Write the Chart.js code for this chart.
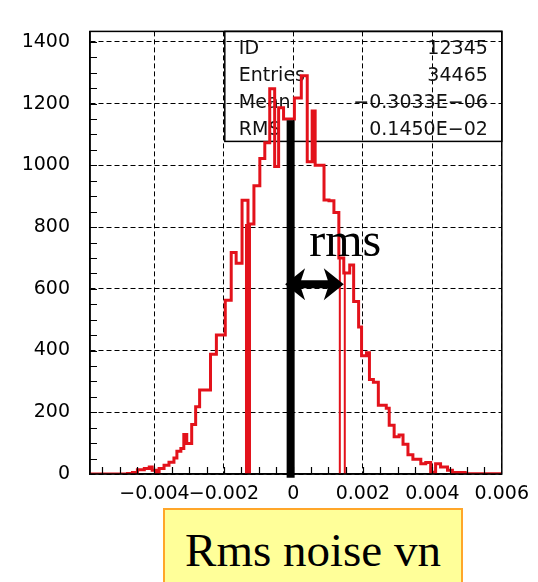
<!DOCTYPE html>
<html>
<head>
<meta charset="utf-8">
<script src="https://cdn.jsdelivr.net/npm/chart.js@4.4.0/dist/chart.umd.min.js"></script>
<style>
  html, body { margin: 0; padding: 0; background: #fff; }
  #wrap { position: relative; width: 538px; height: 582px; overflow: hidden; }
  #noiseLabel {
    position: absolute; left: 163px; top: 508px; width: 300px; height: 90px;
    box-sizing: border-box; background: #ffff99; border: 2px solid #ffa629;
    font-family: 'Liberation Serif', 'Times New Roman', serif; font-size: 47px;
    line-height: 1; text-align: center; padding-top: 17px; color: #000;
  }
</style>
</head>
<body>
<div id="wrap">
  <canvas id="histChart" width="538" height="582"></canvas>
  <div id="noiseLabel">Rms noise vn</div>
</div>
<script>
// histogram step edges (left edge of each step) and counts
const binEdges = [
  -0.005857, -0.004777, -0.004635, -0.004492, -0.004293, -0.004151, -0.004066, -0.003952,
  -0.003867, -0.003725, -0.003583, -0.003440, -0.003355, -0.003241, -0.003156, -0.003071,
  -0.002929, -0.002815, -0.002701, -0.002388, -0.002218, -0.001962, -0.001791, -0.001649,
  -0.001479, -0.001308, -0.001137, -0.000967, -0.000824, -0.000682, -0.000540, -0.000426,
  -0.000284, -0.000114, 0.000028, 0.000227, 0.000398, 0.000540, 0.000626, 0.000881,
  0.001024, 0.001166, 0.001308, 0.001450, 0.001621, 0.001734, 0.001877, 0.001962,
  0.002104, 0.002189, 0.002303, 0.002445, 0.002673, 0.002758, 0.002900, 0.003042,
  0.003156, 0.003298, 0.003440, 0.003668, 0.003810, 0.003952, 0.004094, 0.004237,
  0.004436, 0.004578, 0.004947, 0.006000
];
const binCounts = [
  0, 2, 5, 14, 18, 23, 12, 2,
  18, 28, 38, 52, 74, 83, 128, 99,
  160, 218, 272, 388, 450, 563, 718, 683,
  887, 810, 934, 1022, 1073, 1248, 996, 1187,
  1150, 1150, 1218, 1290, 1012, 1176, 1000, 888,
  885, 847, 700, 651, 677, 559, 476, 383,
  393, 306, 297, 223, 213, 158, 121, 126,
  96, 62, 48, 33, 37, 6, 33, 23,
  12, 5, 1
];

// red marker columns near -rms / +rms
const leftMarkX = -0.001308;
const leftMarkTop = 810;
const rightMarkX = [0.001336, 0.001479];
const rightMarkTop = [700, 655];

// black mean bar and rms arrow overlay
const meanX = -0.00008;
const meanBarRange = [-12, 1146];
const rmsArrowFrom = -0.00024;
const rmsArrowTo = 0.00145;
const rmsArrowY = 615;
const rmsLabelPos = [0.000455, 705];

// axis setup
const xMin = -0.005857, xMax = 0.006;
const yMin = 0, yMax = 1434;
const xTicks = [-0.004, -0.002, 0, 0.002, 0.004, 0.006];
const yTicks = [0, 200, 400, 600, 800, 1000, 1200, 1400];
const xMinorStep = 0.0005;
const yMinorStep = 50;

// statistics box
const statNames = ['ID', 'Entries', 'Mean', 'RMS'];
const statValues = ['12345', '34465', '\u22120.3033E\u221206', '0.1450E\u221202'];

const RED = '#e3121b';
const tickFont = { family: 'DejaVu Sans', size: 19 };

function fmtX(v) {
    if (Math.abs(v) < 1e-12) return '0';
    return v.toFixed(3).replace('-', '\u2212');
}

const histData = binEdges.map((x, i) => ({ x: x, y: binCounts[Math.min(i, binCounts.length - 1)] }));

const overlayPlugin = {
    id: 'overlay',
    beforeDatasetsDraw(chart) {
        const { ctx, chartArea: a } = chart;
        // stats box (transparent, top right)
        const bx = a.right - 277, by = a.top, bw = 277, bh = 110;
        ctx.save();
        ctx.strokeStyle = '#000';
        ctx.lineWidth = 1.5;
        ctx.strokeRect(bx, by, bw, bh);
        ctx.fillStyle = '#111';
        ctx.font = '19px "DejaVu Sans"';
        ctx.textBaseline = 'alphabetic';
        statNames.forEach((name, i) => {
            const yy = by + 23 + i * 27;
            ctx.textAlign = 'left';
            ctx.fillText(name, bx + 14, yy);
            ctx.textAlign = 'right';
            ctx.fillText(statValues[i], a.right - 14, yy);
        });
        ctx.restore();
    },
    afterDatasetsDraw(chart) {
        const { ctx, chartArea: a, scales: { x, y } } = chart;
        ctx.save();
        // minor ticks
        ctx.strokeStyle = '#000';
        ctx.lineWidth = 1.2;
        ctx.beginPath();
        for (let v = Math.ceil(xMin / xMinorStep) * xMinorStep; v < xMax; v += xMinorStep) {
            const px = Math.round(x.getPixelForValue(v)) + 0.5;
            ctx.moveTo(px, a.bottom);
            ctx.lineTo(px, a.bottom - 7);
        }
        for (let v = yMinorStep; v < yMax; v += yMinorStep) {
            const py = Math.round(y.getPixelForValue(v)) + 0.5;
            ctx.moveTo(a.left, py);
            ctx.lineTo(a.left + 7, py);
        }
        ctx.stroke();

        // frame
        ctx.lineWidth = 1.5;
        ctx.strokeRect(a.left, a.top, a.right - a.left, a.bottom - a.top);

        // rms arrow
        const x1 = x.getPixelForValue(rmsArrowFrom);
        const x2 = x.getPixelForValue(rmsArrowTo);
        const yy = y.getPixelForValue(rmsArrowY);
        const head = 20, half = 16, shaft = 4;
        ctx.fillStyle = '#000';
        ctx.beginPath();
        ctx.moveTo(x1, yy);
        ctx.lineTo(x1 + head, yy - half);
        ctx.lineTo(x1 + head - 4, yy - shaft);
        ctx.lineTo(x2 - head + 4, yy - shaft);
        ctx.lineTo(x2 - head, yy - half);
        ctx.lineTo(x2, yy);
        ctx.lineTo(x2 - head, yy + half);
        ctx.lineTo(x2 - head + 4, yy + shaft);
        ctx.lineTo(x1 + head - 4, yy + shaft);
        ctx.lineTo(x1 + head, yy + half);
        ctx.closePath();
        ctx.fill();

        // rms label
        ctx.font = '48px "Liberation Serif"';
        ctx.textAlign = 'left';
        ctx.textBaseline = 'alphabetic';
        ctx.fillText('rms', x.getPixelForValue(rmsLabelPos[0]), y.getPixelForValue(rmsLabelPos[1]));
        ctx.restore();
    }
};

new Chart(document.getElementById('histChart'), {
    type: 'line',
    data: {
        datasets: [
            {
                data: [{ x: meanX, y: meanBarRange[0] }, { x: meanX, y: meanBarRange[1] }],
                borderColor: '#000', borderWidth: 8, pointRadius: 0, clip: false, borderCapStyle: 'butt'
            },
            {
                data: [{ x: leftMarkX, y: 0 }, { x: leftMarkX, y: leftMarkTop }],
                borderColor: RED, borderWidth: 6, pointRadius: 0
            },
            {
                data: [{ x: rightMarkX[0], y: 0 }, { x: rightMarkX[0], y: rightMarkTop[0] }],
                borderColor: RED, borderWidth: 2, pointRadius: 0
            },
            {
                data: [{ x: rightMarkX[1], y: 0 }, { x: rightMarkX[1], y: rightMarkTop[1] }],
                borderColor: RED, borderWidth: 2, pointRadius: 0
            },
            {
                data: histData,
                stepped: true,
                borderColor: RED, borderWidth: 3, pointRadius: 0, fill: false
            }
        ]
    },
    options: {
        responsive: false,
        animation: false,
        parsing: true,
        layout: { padding: { left: 0, top: 10, right: 31, bottom: 0 } },
        plugins: { legend: { display: false }, tooltip: { enabled: false } },
        scales: {
            x: {
                type: 'linear',
                min: xMin, max: xMax,
                afterBuildTicks: s => { s.ticks = xTicks.map(v => ({ value: v })); },
                afterFit: s => { s.height = 108; },
                grid: { color: '#000', lineWidth: 1, drawTicks: false },
                border: { color: '#000', width: 1.5, dash: [5, 3] },
                ticks: {
                    autoSkip: false, maxRotation: 0, minRotation: 0, padding: 9,
                    color: '#000', font: tickFont, callback: v => fmtX(v)
                }
            },
            y: {
                type: 'linear',
                min: yMin, max: yMax,
                afterBuildTicks: s => { s.ticks = yTicks.map(v => ({ value: v })); },
                afterFit: s => { s.width = 90; },
                grid: { color: '#000', lineWidth: 1, drawTicks: false },
                border: { color: '#000', width: 1.5, dash: [5, 3] },
                ticks: { padding: 20, color: '#000', font: tickFont, callback: v => String(v) }
            }
        }
    },
    plugins: [overlayPlugin]
});
</script>
</body>
</html>
